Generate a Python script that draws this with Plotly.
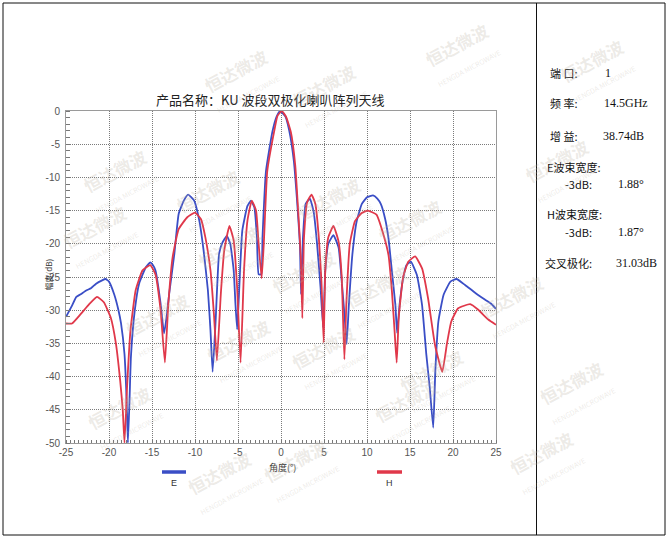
import plotly.graph_objects as go

# ---------------- data ----------------
angle_e = [-25, -24.3, -23.8, -23.3, -22.6, -22.1, -21.5, -20.8, -20.4, -20.0, -19.4, -18.9,
           -18.6, -18.2, -17.95, -17.8, -17.6, -17.45, -17.0, -16.5, -15.7, -15.2, -14.9, -14.6,
           -14.0, -13.6, -13.3, -13.0, -12.4, -11.9, -11.3, -10.8, -10.1, -9.5, -9.0, -8.5,
           -8.2, -7.95, -7.6, -7.2, -6.8, -6.3, -5.9, -5.5, -5.3, -5.1, -4.9, -4.5, -3.9, -3.5,
           -3.1, -2.8, -2.6, -2.3, -2.15, -1.75, -1.0, -0.5, -0.1, 0.5, 0.95, 1.5, 1.9, 2.2,
           2.33, 2.55, 2.86, 3.36, 3.8, 4.2, 4.6, 4.9, 5.15, 5.5, 6.1, 6.7, 7.06, 7.4, 7.63,
           7.9, 8.3, 8.8, 9.4, 10.0, 10.7, 11.2, 11.6, 12.1, 12.5, 12.9, 13.3, 13.5, 13.8,
           14.2, 14.6, 15.1, 15.8, 16.4, 16.9, 17.3, 17.7, 17.95, 18.3, 18.9, 19.7, 20.4,
           21.4, 22.6, 23.7, 24.4, 25]
gain_e = [-31.0, -29.3, -28.0, -27.6, -27.0, -26.7, -26.0, -25.5, -25.3, -25.7, -27.6, -30.0,
          -32.0, -36.6, -43.6, -50.0, -43.0, -37.0, -30.0, -26.0, -23.5, -22.8, -23.2, -24.0,
          -29.0, -33.5, -31.0, -27.5, -21.5, -15.5, -13.5, -12.6, -13.5, -16.5, -21.0, -27.0,
          -33.0, -39.3, -31.6, -21.5, -19.8, -18.8, -20.0, -24.0, -29.0, -32.9, -28.0, -18.0,
          -14.3, -13.5, -14.5, -19.0, -24.6, -24.6, -19.0, -9.1, -3.1, -0.8, 0.0, -0.8, -2.9,
          -7.6, -14.1, -20.1, -27.6, -19.2, -14.0, -13.2, -15.2, -20.1, -26.6, -32.6, -24.0,
          -20.0, -18.7, -20.6, -25.6, -31.0, -35.1, -29.0, -21.6, -16.6, -14.0, -13.0, -12.7,
          -13.2, -14.0, -16.2, -19.2, -24.2, -29.2, -33.4, -29.0, -25.2, -23.2, -22.7, -24.7,
          -29.2, -36.7, -41.7, -47.7, -39.0, -31.7, -27.7, -25.7, -25.3, -26.2, -27.4, -28.4,
          -29.0, -29.8]

angle_h = [-25, -24.3, -23.3, -22.3, -21.4, -20.6, -19.8, -19.2, -18.7, -18.4, -18.2, -17.9,
           -17.5, -16.9, -16.1, -15.2, -14.6, -14.0, -13.5, -13.1, -12.6, -11.9, -10.9, -10.0,
           -9.3, -8.8, -8.2, -7.8, -7.45, -7.0, -6.6, -6.0, -5.5, -5.1, -4.7, -4.3, -3.9, -3.4,
           -2.9, -2.6, -2.25, -2.0, -1.6, -0.8, -0.4, 0.1, 0.6, 1.15, 1.65, 2.0, 2.3, 2.48,
           2.67, 3.05, 3.55, 4.0, 4.4, 4.7, 4.96, 5.15, 5.5, 6.1, 6.7, 7.06, 7.37, 7.6, 8.0,
           8.6, 9.35, 10.1, 11.1, 12.0, 12.5, 12.9, 13.2, 13.45, 13.7, 14.2, 14.8, 15.6, 16.4,
           17.1, 17.9, 18.75, 19.3, 19.8, 20.6, 22.0, 22.9, 24.1, 25]
gain_h = [-32.0, -32.0, -30.6, -29.1, -28.0, -28.8, -31.1, -35.0, -40.6, -45.0, -50.0, -41.6,
          -33.0, -27.0, -24.0, -23.2, -24.6, -30.0, -37.9, -29.0, -22.0, -17.8, -16.0, -15.3,
          -16.3, -19.0, -24.0, -30.6, -37.6, -27.6, -21.0, -17.3, -19.5, -26.6, -37.9, -24.0,
          -16.5, -13.5, -15.0, -20.0, -25.2, -20.0, -9.1, -3.1, -0.7, 0.0, -0.9, -3.2, -8.1,
          -15.1, -22.0, -31.2, -19.2, -13.7, -12.6, -14.0, -19.1, -25.6, -34.9, -24.0, -19.0,
          -17.3, -19.7, -25.0, -37.4, -29.0, -20.0, -16.6, -15.4, -15.0, -15.6, -19.0, -21.7,
          -27.2, -33.0, -37.9, -31.0, -25.0, -22.7, -21.9, -23.7, -28.2, -35.2, -39.3, -35.0,
          -31.7, -29.7, -29.1, -29.9, -31.4, -32.2]

x_ticks = [-25, -20, -15, -10, -5, 0, 5, 10, 15, 20, 25]
x_tick_labels = ["-25", "-20", "-15", "-10", "-5", "0", "5", "10", "15", "20", "25"]
y_ticks = [0, -5, -10, -15, -20, -25, -30, -35, -40, -45, -50]
y_tick_labels = ["0", "-5", "-10", "-15", "-20", "-25", "-30", "-35", "-40", "-45", "-50"]

title_text = "产品名称：KU 波段双极化喇叭阵列天线"
x_title = "角度(°)"
y_title = "幅度(dB)"
series_names = ["E", "H"]

info_labels = ["端 口:", "频 率:", "增 益:", "E波束宽度:", "-3dB:", "H波束宽度:", "-3dB:", "交叉极化:"]
info_values = ["1", "14.5GHz", "38.74dB", "", "1.88°", "", "1.87°", "31.03dB"]

# ---------------- layout helpers ----------------
W, H = 668, 540
L, R, T, B = 66, 496, 111, 443


def px(x):
    return (x - L) / (R - L)


def py(y):
    return (B - y) / (B - T)


BLUE = "#3a4ec6"
RED = "#e0384a"
CJK = "Noto Sans CJK SC"

fig = go.Figure()
fig.add_trace(go.Scatter(x=angle_e, y=gain_e, mode="lines", name=series_names[0],
                         line=dict(color=BLUE, width=1.8, shape="spline", smoothing=0.4),
                         showlegend=False))
fig.add_trace(go.Scatter(x=angle_h, y=gain_h, mode="lines", name=series_names[1],
                         line=dict(color=RED, width=1.8, shape="spline", smoothing=0.4),
                         showlegend=False))

axis_common = dict(showgrid=True, gridcolor="#7a7a7a", gridwidth=1, griddash="1px,1px",
                   showline=True, linecolor="#9a9a9a", linewidth=1, mirror=True,
                   zeroline=False, ticks="",
                   tickfont=dict(family="Liberation Sans, Arial", size=10, color="#555"))

fig.update_xaxes(range=[-25, 25], tickvals=x_ticks, ticktext=x_tick_labels,
                 minor=dict(dtick=0.5, ticks="inside", ticklen=3, tickcolor="#777",
                            showgrid=False),
                 ticklabelstandoff=0, **axis_common)
fig.update_yaxes(range=[-50, 0], tickvals=y_ticks, ticktext=y_tick_labels,
                 minor=dict(dtick=1, ticks="inside", ticklen=4, tickcolor="#777",
                            showgrid=False),
                 ticklabelstandoff=3, **axis_common)

annotations = []
shapes = []

# title & axis titles
annotations.append(dict(x=px(270), y=py(88), xref="paper", yref="paper", text=title_text,
                        showarrow=False, font=dict(family=CJK, size=13, color="#222")))
annotations.append(dict(x=px(282), y=py(467), xref="paper", yref="paper", text=x_title,
                        xanchor="center", yanchor="middle",
                        showarrow=False, font=dict(family=CJK, size=9, color="#333")))
annotations.append(dict(x=px(40), y=py(275), xref="paper", yref="paper", text=y_title,
                        textangle=-90, showarrow=False,
                        font=dict(family=CJK, size=8, color="#333")))

# legend samples
for (x0, x1, col, name) in [(162, 186, BLUE, series_names[0]), (377, 402, RED, series_names[1])]:
    shapes.append(dict(type="line", xref="paper", yref="paper", x0=px(x0), x1=px(x1),
                       y0=py(472), y1=py(472), line=dict(color=col, width=3.5)))
    annotations.append(dict(x=px((x0 + x1) / 2), y=py(476), xref="paper", yref="paper",
                            text=name, showarrow=False, xanchor="center", yanchor="top",
                            font=dict(family="Liberation Sans, Arial", size=9, color="#333")))

# outer frame and divider
shapes.append(dict(type="rect", xref="paper", yref="paper", x0=px(3), x1=px(665),
                   y0=py(535), y1=py(3), line=dict(color="#111", width=1)))
shapes.append(dict(type="line", xref="paper", yref="paper", x0=px(536.5), x1=px(536.5),
                   y0=py(535), y1=py(3), line=dict(color="#111", width=1)))

# right info panel
label_pos = [(548, 73), (548, 103), (548, 136), (545, 167), (563, 184), (545, 214),
             (563, 232), (543, 263)]
value_x = [603, 602, 601, None, 616, None, 616, 614]
for lab, val, (lx, ly), vx in zip(info_labels, info_values, label_pos, value_x):
    annotations.append(dict(x=px(lx), y=py(ly), xref="paper", yref="paper", text=lab,
                            xanchor="left", yanchor="middle", showarrow=False,
                            font=dict(family=CJK, size=11, color="#111")))
    if val:
        annotations.append(dict(x=px(vx), y=py(ly), xref="paper", yref="paper", text=val,
                                xanchor="left", yanchor="middle", showarrow=False,
                                font=dict(family="Liberation Serif, " + CJK, size=12,
                                          color="#111")))

# watermark (decoration)
wm_pos = [(75, 140), (212, 160), (333, 168), (458, 190), (605, 130),
          (55, 235), (190, 255), (308, 280), (425, 295), (560, 305),
          (118, 362), (243, 388), (372, 395), (480, 418), (620, 430),
          (80, 455), (300, 508), (455, 448), (180, 520), (590, 500),
          (240, 40), (372, 55), (505, 14), (640, 30)]
for (wx, wy) in wm_pos:
    annotations.append(dict(x=px(wx), y=py(wy), xref="paper", yref="paper",
                            text="<b>恒达微波</b><br><span style='font-size:7px'>HENGDA MICROWAVE</span>",
                            textangle=-28, showarrow=False,
                            font=dict(family=CJK, size=17, color="rgba(185,175,160,0.26)")))

fig.update_layout(width=W, height=H, autosize=False,
                  margin=dict(l=L, r=W - R, t=T, b=H - B, pad=0),
                  paper_bgcolor="white", plot_bgcolor="white",
                  annotations=annotations, shapes=shapes, showlegend=False)

fig.write_html("out.html", config={"displayModeBar": False},
               post_script="document.body.style.margin='0px';")
